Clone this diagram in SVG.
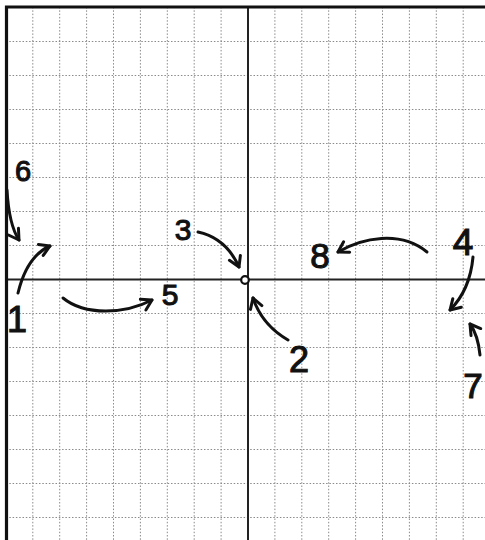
<svg xmlns="http://www.w3.org/2000/svg" width="485" height="540" viewBox="0 0 485 540">
<style>
.grid{stroke:#8a8a8a;stroke-width:1;stroke-dasharray:1.5 1.8;fill:none}
.axis{stroke:#222;stroke-width:2;fill:none}
.border{stroke:#111;stroke-width:3.2;fill:none}
.arrow{stroke:#111;stroke-width:3;fill:none;stroke-linecap:round;marker-end:url(#chev)}
.lbl{font-family:"Liberation Sans",Arial,sans-serif;fill:#111;stroke:#111;stroke-width:1.1;text-anchor:middle}
</style>
<defs>
<marker id="chev" markerUnits="userSpaceOnUse" markerWidth="14" markerHeight="14" refX="10" refY="6" orient="auto" overflow="visible">
<path d="M0,0 L10,6 L0,12" stroke="#111" stroke-width="3" fill="none" stroke-linecap="round" stroke-linejoin="round"/>
</marker>
</defs>
<rect width="485" height="540" fill="#fff"/>
<g id="grid">
<path class="grid" d="M32.8,7V540M59.7,7V540M86.6,7V540M113.5,7V540M140.4,7V540M167.3,7V540M194.2,7V540M221.1,7V540M274.9,7V540M301.8,7V540M328.7,7V540M355.6,7V540M382.5,7V540M409.4,7V540M436.3,7V540M463.2,7V540"/>
<path class="grid" d="M6,41.5H485M6,75.5H485M6,109.5H485M6,143.5H485M6,177.5H485M6,211.5H485M6,245.5H485M6,313.5H485M6,347.5H485M6,381.5H485M6,415.5H485M6,449.5H485M6,483.5H485M6,517.5H485"/>
<path class="axis" d="M248,7V540M6,279.5H485"/>
<path class="border" d="M6.5,540V7H485"/>
</g>
<g id="connectors">
<path id="a6" class="arrow" d="M7,190 Q9,225 19,240"/>
<path id="a1" class="arrow" d="M18,293 Q27,256 50,246"/>
<path id="a5" class="arrow" d="M63,298 C85,316 125,314 152,300"/>
<path id="a3" class="arrow" d="M198,232 Q226,238 239,267"/>
<path id="a2" class="arrow" d="M288,340 Q262,325 253,298"/>
<path id="a8" class="arrow" d="M427,252 C400,230 362,238 338,252"/>
<path id="a4" class="arrow" d="M473,257 Q470,290 450,310"/>
<path id="a7" class="arrow" d="M480,355 Q478,335 470,324"/>
</g>
<g id="origin"><circle cx="245" cy="280" r="3.8" fill="#fff" stroke="#111" stroke-width="2.2"/></g>
<g id="n6"><text class="lbl" x="23" y="181" font-size="29">6</text></g>
<g id="n1"><text class="lbl" x="17" y="332" font-size="36">1</text></g>
<g id="n5"><text class="lbl" x="170" y="305" font-size="30">5</text></g>
<g id="n3"><text class="lbl" x="183" y="240" font-size="30">3</text></g>
<g id="n2"><text class="lbl" x="299" y="372" font-size="36">2</text></g>
<g id="n8"><text class="lbl" x="320" y="268" font-size="35">8</text></g>
<g id="n4"><text class="lbl" x="463" y="255" font-size="37">4</text></g>
<g id="n7"><text class="lbl" x="473" y="398" font-size="35">7</text></g>
</svg>
